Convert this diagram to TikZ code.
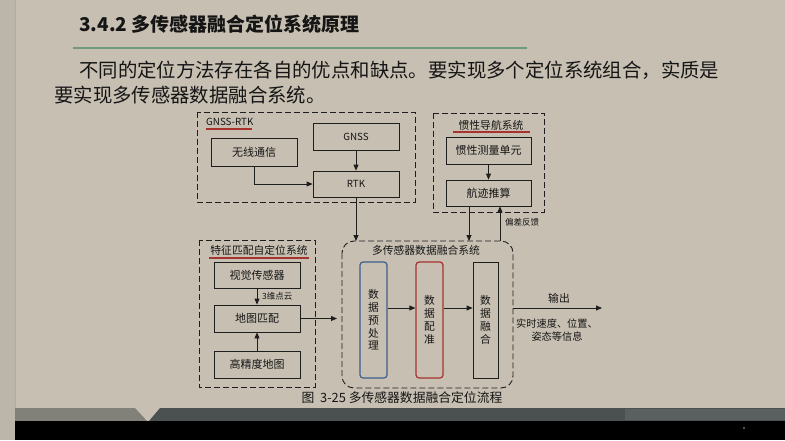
\documentclass[tikz,border=0pt]{standalone}
\usepackage{fontspec}
\setmainfont{Noto Sans CJK SC}
\usetikzlibrary{arrows.meta,calc}
\definecolor{bgc}{HTML}{C7BFB2}
\definecolor{stripc}{HTML}{BCB5A9}
\definecolor{stripline}{HTML}{B2AB9F}
\definecolor{greenc}{HTML}{6E9A80}
\definecolor{redc}{HTML}{A8322D}
\definecolor{bluec}{HTML}{3C5F8C}
\definecolor{linec}{HTML}{1E1E1E}
\definecolor{txtc}{HTML}{151515}
\definecolor{barl}{HTML}{81817A}
\definecolor{bard}{HTML}{4B5050}
\definecolor{bardd}{HTML}{5A5F60}
\newcommand{\fsz}[1]{\fontsize{#1}{#1}\selectfont}
\tikzset{
  box/.style={draw=linec, line width=0.8pt, inner sep=0pt, text=txtc, font=\fsz{11}},
  vbox/.style={box, minimum width=27pt, minimum height=116pt, align=center, font=\fontsize{10.8}{12.8}\selectfont},
  group/.style={draw=linec, line width=0.9pt, dash pattern=on 6pt off 3pt},
  lbl/.style={inner sep=0pt, text=txtc, font=\fsz{10.8}},
  small/.style={inner sep=0pt, text=txtc, font=\fsz{8.5}},
  ul/.style={draw=redc, line width=1.4pt},
  arr/.style={draw=linec, line width=0.8pt, -{Triangle[length=6pt,width=5pt]}}
}
\begin{document}
\begin{tikzpicture}[x=1pt,y=-1pt]
\useasboundingbox (0,0) rectangle (785,440);
% background
\fill[bgc] (0,0) rectangle (785,440);
\fill[stripc] (0,0) rectangle (15,440);
\draw[stripline, line width=0.6pt] (15,0) -- (15,408);
\fill[barl] (15,408) -- (135,408) -- (147,421) -- (15,421) -- cycle;
\fill[bard] (160,408) -- (785,408) -- (785,421) -- (149,421) -- cycle;
\fill[bardd] (625,409) rectangle (785,420);
\fill[black] (15,421) rectangle (785,440);
\fill[gray!70] (744,428) circle (0.9);
% title and text
\node[anchor=west, inner sep=0pt, text=txtc, font=\bfseries\fsz{19}] (title) at (79,24) {3.4.2 多传感器融合定位系统原理};
\draw[greenc, line width=2pt] (73,48) -- (527,48);
\node[anchor=west, inner sep=0pt, text=txtc, font=\fsz{19.4}] (p1) at (79,70) {不同的定位方法存在各自的优点和缺点。要实现多个定位系统组合，实质是};
\node[anchor=west, inner sep=0pt, text=txtc, font=\fsz{19.4}] (p2) at (54,95) {要实现多传感器数据融合系统。};
% group frames
\draw[group] (197,112) rectangle (415,202);
\draw[group] (433,113) rectangle (544,212);
\draw[group] (199,240) rectangle (315,387);
\draw[group, rounded corners=12pt] (342,241) rectangle (513,388);
\coordinate (fustop) at (427,241);
\coordinate (fusright) at (513,308);
% group labels
\node[lbl, font=\fsz{9.8}, anchor=west] (gl) at (206,122) {GNSS-RTK};
\draw[ul] (206,129) -- (252,129);
\node[lbl] (il) at (491,125) {惯性导航系统};
\draw[ul] (453,132) -- (530,132);
\node[lbl] (fl) at (259,250) {特征匹配自定位系统};
\draw[ul] (209,258) -- (309,258);
\node[lbl] (ml) at (426,250) {多传感器数据融合系统};
% boxes
\node[box, minimum width=86pt, minimum height=27pt, font=\fsz{9.8}] (gnss) at (356,136.5) {GNSS};
\node[box, minimum width=86pt, minimum height=28pt] (wx) at (254,152) {无线通信};
\node[box, minimum width=86pt, minimum height=26pt, font=\fsz{9.8}] (rtk) at (356,184) {RTK};
\node[box, minimum width=85pt, minimum height=27pt] (imu) at (488.5,150.5) {惯性测量单元};
\node[box, minimum width=85pt, minimum height=26pt] (dr) at (488.5,193) {航迹推算};
\node[box, minimum width=86pt, minimum height=26pt] (vis) at (257,275) {视觉传感器};
\node[box, minimum width=86pt, minimum height=27pt] (mm) at (257,318.5) {地图匹配};
\node[box, minimum width=86pt, minimum height=27pt] (hd) at (257,364.5) {高精度地图};
\node[vbox, draw=bluec, line width=1.2pt, rounded corners=3pt] (pre) at (373.5,320) {数\\据\\预\\处\\理};
\node[vbox, draw=redc, line width=1.2pt, rounded corners=3pt] (reg) at (429.5,320) {数\\据\\配\\准};
\node[vbox, minimum width=25pt] (fus) at (485.5,320) {数\\据\\融\\合};
% connectors
\draw[arr] (gnss.south) -- (rtk.north);
\draw[arr] (wx.south) |- (rtk.west);
\draw[arr] (rtk.south) -- (rtk.south |- fustop);
\draw[arr] (imu.south) -- (dr.north);
\draw[arr] ([xshift=-19.5pt]dr.south) -- ([xshift=-19.5pt]dr.south |- fustop);
\draw[arr] ([xshift=11.5pt]dr.south |- fustop) -- ([xshift=11.5pt]dr.south);
\node[small, anchor=west] (fb) at (505,222) {偏差反馈};
\draw[arr] (vis.south) -- (mm.north);
\node[small, anchor=west] (pc) at (262,296) {3维点云};
\draw[arr] (hd.north) -- (mm.south);
\coordinate (mmend) at (337,318.5);
\draw[arr] (mm.east) -- (mmend);
\draw[arr] ([yshift=12pt]pre.east) -- ([yshift=12pt]reg.west);
\draw[arr] ([yshift=12pt]reg.east) -- ([yshift=12pt]fus.west);
\coordinate (outend) at (602,308);
\draw[arr] (fusright) -- (outend);
\node[lbl] (outl) at (559,298) {输出};
\node[lbl, font=\fontsize{10.2}{12.5}\selectfont, align=center] (info) at (557,330) {实时速度、位置、\\姿态等信息};
% caption
\node[inner sep=0pt, text=txtc, font=\fsz{12.8}] (cap) at (402,398) {图\ \ 3-25 多传感器数据融合定位流程};
\end{tikzpicture}
\end{document}
